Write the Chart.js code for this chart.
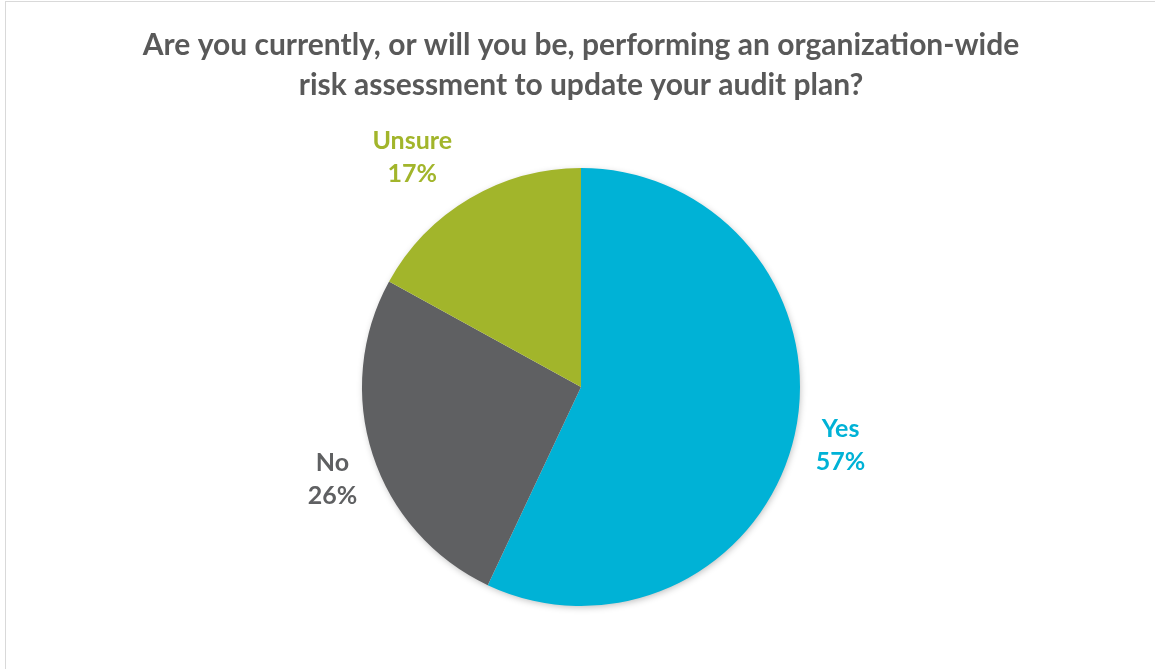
<!DOCTYPE html>
<html>
<head>
<meta charset="utf-8">
<script src="https://cdn.jsdelivr.net/npm/chart.js@4.4.1/dist/chart.umd.min.js"></script>
<style>
  html, body { margin: 0; padding: 0; background: #fff; overflow: hidden; }
  #wrap { position: relative; width: 1155px; height: 669px; }
  #frame {
    position: absolute; left: 5px; top: 1px; width: 1200px; height: 720px;
    border: 1.5px solid #d9d9d9; pointer-events: none;
  }
</style>
</head>
<body>
<div id="wrap">
  <canvas id="riskChart" width="1155" height="669"></canvas>
  <div id="frame"></div>
</div>
<script>
const titleLines = [
  'Are you currently, or will you be, performing an organization-wide',
  'risk assessment to update your audit plan?'
];
const answers = ['Yes', 'No', 'Unsure'];
const shares = [57, 26, 17];
const sliceColors = ['#00B2D6', '#5F6062', '#A2B52B'];

// soft drop shadow under the whole pie
const pieShadow = {
  id: 'pieShadow',
  beforeDatasetsDraw(chart) {
    const arc = chart.getDatasetMeta(0).data[0];
    if (!arc) return;
    const ctx = chart.ctx;
    ctx.save();
    ctx.shadowColor = 'rgba(0,0,0,0.28)';
    ctx.shadowBlur = 7;
    ctx.shadowOffsetX = 1;
    ctx.shadowOffsetY = 2;
    ctx.fillStyle = '#ffffff';
    ctx.beginPath();
    ctx.arc(arc.x, arc.y, arc.outerRadius - 1, 0, Math.PI * 2);
    ctx.fill();
    ctx.restore();
  }
};

// category + percent written outside each slice, in the slice colour
const outsideLabels = {
  id: 'outsideLabels',
  afterDatasetsDraw(chart) {
    const ctx = chart.ctx;
    const meta = chart.getDatasetMeta(0);
    const push = [47, 46, 66];       // distance past the rim
    const turn = [0, -2.3, -5.7];    // small angular nudge, degrees
    ctx.save();
    ctx.font = 'bold 25px Lato';
    ctx.textAlign = 'center';
    ctx.textBaseline = 'middle';
    meta.data.forEach((arc, i) => {
      const mid = (arc.startAngle + arc.endAngle) / 2 + turn[i] * Math.PI / 180;
      const r = arc.outerRadius + push[i];
      const x = arc.x + Math.cos(mid) * r;
      const y = arc.y + Math.sin(mid) * r;
      ctx.fillStyle = sliceColors[i];
      ctx.fillText(answers[i], x, y - 16);
      ctx.fillText(shares[i] + '%', x, y + 17);
    });
    ctx.restore();
  }
};

new Chart(document.getElementById('riskChart'), {
  type: 'pie',
  data: {
    labels: answers,
    datasets: [{
      data: shares,
      backgroundColor: sliceColors,
      borderColor: sliceColors,
      borderWidth: 0
    }]
  },
  options: {
    responsive: false,
    animation: false,
    layout: { padding: { top: 0, bottom: 63, left: 7, right: 0 } },
    plugins: {
      legend: { display: false },
      tooltip: { enabled: false },
      title: {
        display: true,
        text: titleLines,
        color: '#595959',
        font: { family: 'Lato', size: 30, weight: 'bold', lineHeight: 1.3333 },
        padding: { top: 25, bottom: 63 }
      }
    }
  },
  plugins: [pieShadow, outsideLabels]
});
</script>
</body>
</html>
